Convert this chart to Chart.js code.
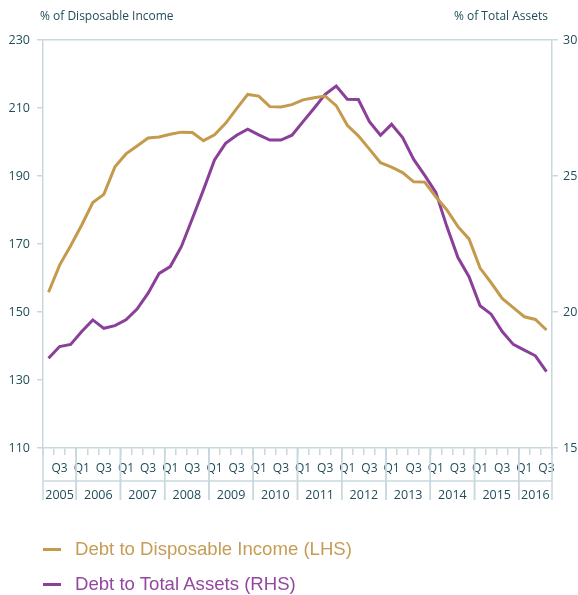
<!DOCTYPE html>
<html>
<head>
<meta charset="utf-8">
<script src="https://cdn.jsdelivr.net/npm/chart.js@4.4.1/dist/chart.umd.min.js"></script>
<style>
    html, body { margin: 0; padding: 0; background: #fff; }
    #wrap { position: relative; width: 578px; height: 595px; }
    #chart { position: absolute; left: 0; top: 0; }
    .legend-item { position: absolute; left: 43px; height: 24px; display: flex; align-items: center; font-family: 'Liberation Sans', Arial, sans-serif; font-size: 18.6px; }
    .legend-item span.swatch { display: inline-block; width: 18px; height: 3px; margin-right: 14px; }
</style>
</head>
<body>
<div id="wrap">
    <canvas id="chart" width="578" height="595"></canvas>
    <div class="legend-item" style="top: 537px; color: #c59d55;"><span class="swatch" style="background: #c49a4c;"></span>Debt to Disposable Income (LHS)</div>
    <div class="legend-item" style="top: 572px; color: #93479f;"><span class="swatch" style="background: #8a3f98;"></span>Debt to Total Assets (RHS)</div>
</div>
<script>
const quarters = [
    '2005 Q2', '2005 Q3', '2005 Q4',
    '2006 Q1', '2006 Q2', '2006 Q3', '2006 Q4',
    '2007 Q1', '2007 Q2', '2007 Q3', '2007 Q4',
    '2008 Q1', '2008 Q2', '2008 Q3', '2008 Q4',
    '2009 Q1', '2009 Q2', '2009 Q3', '2009 Q4',
    '2010 Q1', '2010 Q2', '2010 Q3', '2010 Q4',
    '2011 Q1', '2011 Q2', '2011 Q3', '2011 Q4',
    '2012 Q1', '2012 Q2', '2012 Q3', '2012 Q4',
    '2013 Q1', '2013 Q2', '2013 Q3', '2013 Q4',
    '2014 Q1', '2014 Q2', '2014 Q3', '2014 Q4',
    '2015 Q1', '2015 Q2', '2015 Q3', '2015 Q4',
    '2016 Q1', '2016 Q2', '2016 Q3'
];
const years = ['2005', '2006', '2007', '2008', '2009', '2010', '2011', '2012', '2013', '2014', '2015', '2016'];

// % of disposable income (left axis)
const debtToIncome = [
    155.8, 163.8, 169.5,
    175.6, 182.2, 184.6, 192.7,
    196.5, 198.8, 201.2, 201.5,
    202.3, 202.9, 202.8, 200.4,
    202.1, 205.5, 209.8, 214.0,
    213.5, 210.4, 210.3, 211.0,
    212.4, 213.0, 213.5, 210.7,
    204.9, 201.8, 197.9, 193.9,
    192.6, 191.0, 188.3, 188.2,
    183.9, 180.0, 175.1, 171.5,
    162.9, 158.6, 154.0, 151.3,
    148.6, 147.8, 144.7
];
// % of total assets (right axis)
const debtToAssets = [
    18.30, 18.73, 18.81,
    19.28, 19.71, 19.40, 19.50,
    19.71, 20.11, 20.69, 21.42,
    21.67, 22.40, 23.44, 24.49,
    25.59, 26.20, 26.50, 26.72,
    26.51, 26.32, 26.32, 26.50,
    27.00, 27.49, 28.00, 28.31,
    27.82, 27.81, 27.00, 26.50,
    26.90, 26.41, 25.61, 25.02,
    24.40, 23.14, 22.00, 21.30,
    20.23, 19.92, 19.28, 18.81,
    18.60, 18.39, 17.81
];
const leftTicks = { min: 110, max: 230, step: 20 };
const rightTicks = { min: 15, max: 30, step: 5 };

const axisColor = '#c8d8de';
const textColor = '#1f4d58';
const tickFont = { family: 'Open Sans', size: 12.5 };

const yearRowPlugin = {
    id: 'yearRow',
    afterDraw(chart) {
        const ctx = chart.ctx;
        const x = chart.scales.x;
        const area = chart.chartArea;
        const half = (x.getPixelForValue(1) - x.getPixelForValue(0)) / 2;
        const rowLine = area.bottom + 33;
        const bottom = area.bottom + 52;

        ctx.save();
        ctx.strokeStyle = axisColor;
        ctx.lineWidth = 1.5;
        ctx.beginPath();
        ctx.moveTo(area.left, rowLine);
        ctx.lineTo(area.right, rowLine);
        ctx.stroke();

        ctx.fillStyle = textColor;
        ctx.font = '12.5px "Open Sans"';
        ctx.textAlign = 'center';
        ctx.textBaseline = 'middle';
        years.forEach(function(year) {
            const idx = [];
            quarters.forEach(function(q, i) { if (q.startsWith(year)) idx.push(i); });
            const left = x.getPixelForValue(idx[0]) - half;
            const right = x.getPixelForValue(idx[idx.length - 1]) + half;
            ctx.beginPath();
            ctx.moveTo(left, area.bottom);
            ctx.lineTo(left, bottom);
            ctx.moveTo(right, area.bottom);
            ctx.lineTo(right, bottom);
            ctx.stroke();
            ctx.fillText(year, (left + right) / 2, area.bottom + 47);
        });

        // axis titles
        ctx.font = '12px "Open Sans"';
        ctx.textAlign = 'left';
        ctx.fillText('% of Disposable Income', area.left - 3, 17);
        ctx.textAlign = 'right';
        ctx.fillText('% of Total Assets', area.right - 4, 17);
        ctx.restore();
    }
};

new Chart(document.getElementById('chart').getContext('2d'), {
    type: 'line',
    data: {
        labels: quarters,
        datasets: [{
            label: 'Debt to Disposable Income (LHS)',
            data: debtToIncome,
            borderColor: '#c49a4c',
            borderWidth: 3,
            pointRadius: 0,
            tension: 0,
            yAxisID: 'y'
        }, {
            label: 'Debt to Total Assets (RHS)',
            data: debtToAssets,
            borderColor: '#8a3f98',
            borderWidth: 3,
            pointRadius: 0,
            tension: 0,
            yAxisID: 'y1'
        }]
    },
    options: {
        responsive: false,
        animation: false,
        layout: { padding: { top: 40, left: 0, right: 0, bottom: 0 } },
        plugins: {
            legend: { display: false },
            tooltip: { enabled: false }
        },
        scales: {
            x: {
                offset: true,
                border: { color: axisColor, width: 1.5 },
                grid: {
                    offset: true,
                    drawOnChartArea: false,
                    color: axisColor,
                    tickLength: 7,
                    lineWidth: 1.5
                },
                ticks: {
                    autoSkip: false,
                    maxRotation: 0,
                    padding: 6,
                    color: textColor,
                    font: { family: 'Open Sans', size: 12 },
                    callback: function(value, index) {
                        const q = quarters[index].slice(-2);
                        return (q === 'Q1' || q === 'Q3') ? q : '';
                    }
                },
                afterFit: function(scale) { scale.height = 147; }
            },
            y: {
                position: 'left',
                min: leftTicks.min,
                max: leftTicks.max,
                border: { color: axisColor, width: 1.5 },
                grid: {
                    color: function(c) { return c.tick && c.tick.value === leftTicks.max ? axisColor : 'rgba(0,0,0,0)'; },
                    tickColor: axisColor,
                    tickLength: 6,
                    lineWidth: 1.5
                },
                ticks: {
                    stepSize: leftTicks.step,
                    padding: 7,
                    color: textColor,
                    font: tickFont
                },
                afterFit: function(scale) { scale.width = 43; }
            },
            y1: {
                position: 'right',
                min: rightTicks.min,
                max: rightTicks.max,
                border: { color: axisColor, width: 1.5 },
                grid: {
                    drawOnChartArea: false,
                    color: axisColor,
                    tickLength: 6,
                    lineWidth: 1.5
                },
                ticks: {
                    stepSize: rightTicks.step,
                    padding: 5,
                    color: textColor,
                    font: tickFont
                },
                afterFit: function(scale) { scale.width = 26; }
            }
        }
    },
    plugins: [yearRowPlugin]
});
</script>
</body>
</html>
